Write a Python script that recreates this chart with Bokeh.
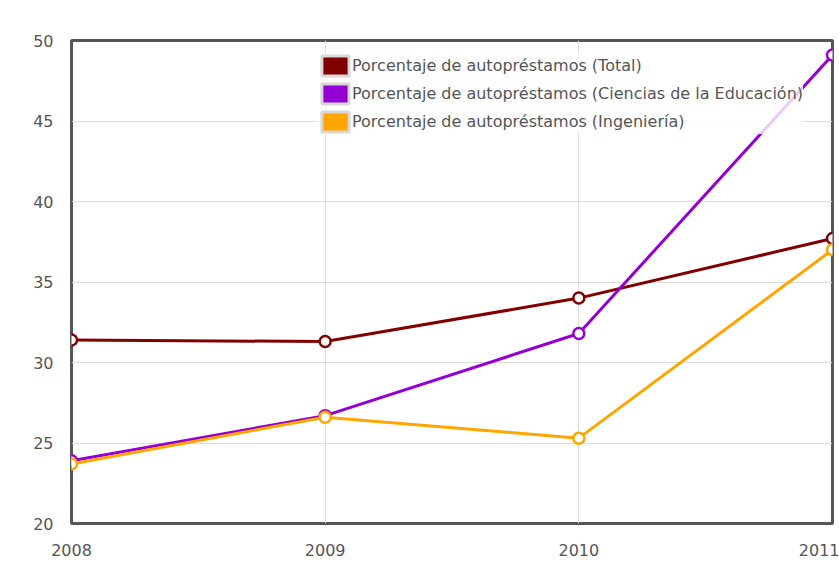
import math
from bokeh.plotting import figure
from bokeh.models import Range1d, FixedTicker, Legend, LegendItem
from bokeh.embed import file_html
from bokeh.resources import INLINE

years = [2008, 2009, 2010, 2011]
total = [31.4, 31.3, 34.0, 37.7]
educacion = [23.9, 26.7, 31.8, 49.1]
ingenieria = [23.7, 26.6, 25.3, 37.0]
y_ticks = [20, 25, 30, 35, 40, 45, 50]

names = ["Porcentaje de autopréstamos (Total)",
         "Porcentaje de autopréstamos (Ciencias de la Educación)",
         "Porcentaje de autopréstamos (Ingeniería)"]
colors = ["#800000", "#9400D3", "#FFA500"]
series = [total, educacion, ingenieria]

p = figure(width=839, height=577, output_backend="svg", toolbar_location=None,
           x_range=Range1d(2008, 2011), y_range=Range1d(20, 50),
           min_border_left=71, min_border_right=7, min_border_top=40, min_border_bottom=54)

p.border_fill_color = "white"
p.background_fill_color = "white"
p.outline_line_color = "#555555"
p.outline_line_width = 3

for ax in (p.xaxis, p.yaxis):
    ax.axis_line_color = None
    ax.major_tick_line_color = None
    ax.minor_tick_line_color = None
    ax.major_label_text_font = "DejaVu Sans"
    ax.major_label_text_font_size = "16px"
    ax.major_label_text_color = "#555555"

p.xaxis.ticker = FixedTicker(ticks=years)
p.yaxis.ticker = FixedTicker(ticks=y_ticks)
p.xaxis.major_label_standoff = 14
p.yaxis.major_label_standoff = 12

p.xgrid.ticker = FixedTicker(ticks=years)
p.ygrid.ticker = FixedTicker(ticks=y_ticks)
p.grid.grid_line_color = "#dddddd"
p.grid.grid_line_width = 1

nan = [math.nan]
items = []
for name, color, vals in zip(names, colors, series):
    p.line(years, vals, line_color=color, line_width=3)
    p.scatter(years, vals, size=11, marker="circle", fill_color="white",
              line_color=color, line_width=2.5)
    sw = p.quad(left=nan, right=nan, top=nan, bottom=nan, fill_color=color,
                line_color="#d8d8d8", line_width=3)
    items.append(LegendItem(label=name, renderers=[sw]))

legend = Legend(items=items, location=(247, 389), margin=0, padding=4,
                spacing=3, glyph_width=34, glyph_height=25,
                label_standoff=-3,
                label_text_font="DejaVu Sans", label_text_font_size="16px",
                label_text_color="#555555", border_line_color=None,
                background_fill_color="white", background_fill_alpha=0.8)
p.add_layout(legend)

open("out.html", "w").write(file_html(p, INLINE))
